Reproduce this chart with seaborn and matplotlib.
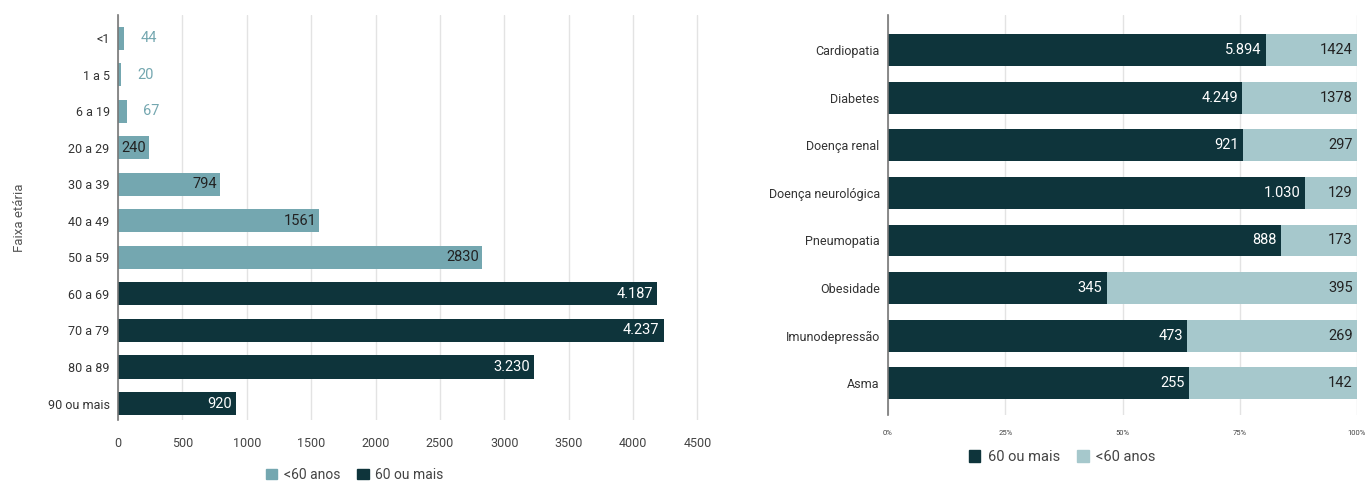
import matplotlib
matplotlib.use("Agg")
import matplotlib.pyplot as plt
import seaborn as sns
import pandas as pd
from matplotlib.patches import Patch

# ---------------- data ----------------
age_groups = ["<1", "1 a 5", "6 a 19", "20 a 29", "30 a 39", "40 a 49", "50 a 59",
              "60 a 69", "70 a 79", "80 a 89", "90 ou mais"]
age_values = [44, 20, 67, 240, 794, 1561, 2830, 4187, 4237, 3230, 920]
age_series = ["<60 anos"] * 7 + ["60 ou mais"] * 4

conditions = ["Cardiopatia", "Diabetes", "Doença renal", "Doença neurológica",
              "Pneumopatia", "Obesidade", "Imunodepressão", "Asma"]
cond_60plus = [5894, 4249, 921, 1030, 888, 345, 473, 255]
cond_under60 = [1424, 1378, 297, 129, 173, 395, 269, 142]

left_ticks = [0, 500, 1000, 1500, 2000, 2500, 3000, 3500, 4000, 4500]
right_ticks = [0, 0.25, 0.5, 0.75, 1.0]
right_ticklabels = ["0%", "25%", "50%", "75%", "100%"]

# ---------------- style ----------------
DARK = "#0e343b"
TEAL = "#74a7b0"
LIGHT = "#a6c8cc"
TXT = "#444444"
GRID = "#e3e3e3"

sns.set_theme(style="white")
plt.rcParams["font.family"] = ["Roboto", "DejaVu Sans"]


def fmt_dot(v):
    return f"{v:,}".replace(",", ".")


fig = plt.figure(figsize=(13.68, 4.83), dpi=100)

# ---------------- left chart ----------------
ax1 = fig.add_axes([118 / 1368, 1 - 420 / 483, (700 - 118) / 1368, (420 - 15) / 483])
df_age = pd.DataFrame({"faixa": age_groups, "valor": age_values, "grupo": age_series})
sns.barplot(data=df_age, y="faixa", x="valor", hue="grupo", order=age_groups,
            hue_order=["<60 anos", "60 ou mais"], palette=[TEAL, DARK],
            dodge=False, width=0.63, orient="h", ax=ax1, legend=False,
            edgecolor="none", saturation=1)
ax1.set_xlim(0, 4520)
ax1.set_ylim(10.45, -0.63)
ax1.set_xticks(left_ticks)
ax1.set_xticklabels([str(t) for t in left_ticks])
ax1.xaxis.grid(True, color=GRID, lw=1)
ax1.set_axisbelow(True)
for s in ["top", "right", "bottom"]:
    ax1.spines[s].set_visible(False)
ax1.spines["left"].set_color("#777777")
ax1.spines["left"].set_linewidth(1.2)
ax1.tick_params(axis="x", length=6, color=GRID, labelsize=9, labelcolor=TXT, pad=6)
ax1.tick_params(axis="y", length=0, labelsize=9, labelcolor="#333333", pad=6)
ax1.set_ylabel("Faixa etária", fontsize=9.5, color="#555555")
ax1.yaxis.set_label_coords(-(118 - 26) / 582, 0.5)
ax1.set_xlabel("")

for i, (v, g) in enumerate(zip(age_values, age_series)):
    if v < 100:
        ax1.annotate(str(v), (v, i), xytext=(12, 0), textcoords="offset points",
                     ha="left", va="center", color=TEAL, fontsize=10.5)
    elif g == "<60 anos":
        ax1.annotate(str(v), (v, i), xytext=(-2, 0), textcoords="offset points",
                     ha="right", va="center", color="#222222", fontsize=10.5)
    else:
        ax1.annotate(fmt_dot(v), (v, i), xytext=(-3, 0), textcoords="offset points",
                     ha="right", va="center", color="white", fontsize=10.5)

fig.legend(handles=[Patch(color=TEAL, label="<60 anos"), Patch(color=DARK, label="60 ou mais")],
           loc="center", bbox_to_anchor=(355 / 1368, 1 - 475 / 483), ncol=2, frameon=False,
           fontsize=10, handlelength=0.8, handleheight=0.8, handletextpad=0.5,
           columnspacing=1.2, labelcolor=TXT)

# ---------------- right chart ----------------
ax2 = fig.add_axes([888 / 1368, 1 - 415 / 483, (1357 - 888) / 1368, (415 - 15) / 483])
totals = [a + b for a, b in zip(cond_60plus, cond_under60)]
df_c = pd.DataFrame({
    "cond": conditions,
    "total": [1.0 for _ in totals],
    "frac60": [a / t for a, t in zip(cond_60plus, totals)],
})
sns.barplot(data=df_c, y="cond", x="total", order=conditions, color=LIGHT, width=0.67,
            orient="h", ax=ax2, edgecolor="none", saturation=1)
sns.barplot(data=df_c, y="cond", x="frac60", order=conditions, color=DARK, width=0.67,
            orient="h", ax=ax2, edgecolor="none", saturation=1)
ax2.set_xlim(0, 1.0)
ax2.set_ylim(7.67, -0.74)
ax2.set_xticks(right_ticks)
ax2.set_xticklabels(right_ticklabels)
ax2.xaxis.grid(True, color=GRID, lw=1)
ax2.set_axisbelow(True)
for s in ["top", "right", "bottom"]:
    ax2.spines[s].set_visible(False)
ax2.spines["left"].set_color("#777777")
ax2.spines["left"].set_linewidth(1.2)
ax2.tick_params(axis="x", length=6, color=GRID, labelsize=5.5, labelcolor=TXT, pad=5)
ax2.tick_params(axis="y", length=0, labelsize=9, labelcolor="#333333", pad=6)
ax2.set_xlabel("")
ax2.set_ylabel("")

for i, (a, b, t) in enumerate(zip(cond_60plus, cond_under60, totals)):
    ax2.annotate(fmt_dot(a), (a / t, i), xytext=(-3, 0), textcoords="offset points",
                 ha="right", va="center", color="white", fontsize=10.5)
    ax2.annotate(str(b), (1.0, i), xytext=(-3, 0), textcoords="offset points",
                 ha="right", va="center", color="#222222", fontsize=10.5)

fig.legend(handles=[Patch(color=DARK, label="60 ou mais"), Patch(color=LIGHT, label="<60 anos")],
           loc="center", bbox_to_anchor=(1062 / 1368, 1 - 457 / 483), ncol=2, frameon=False,
           fontsize=10.5, handlelength=0.8, handleheight=0.8, handletextpad=0.5,
           columnspacing=1.2, labelcolor=TXT)

fig.savefig("out.png", dpi=100)
